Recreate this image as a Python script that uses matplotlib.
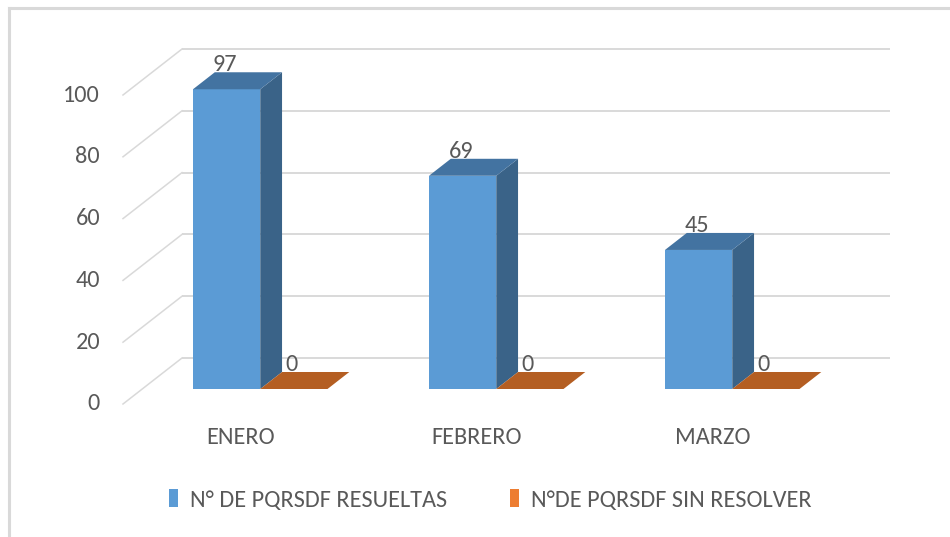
import matplotlib
matplotlib.use("Agg")
import matplotlib.pyplot as plt
from matplotlib.patches import Polygon, Patch
from matplotlib.lines import Line2D

categories = ["ENERO", "FEBRERO", "MARZO"]
resueltas = [97, 69, 45]
sin_resolver = [0, 0, 0]
series_names = ["N° DE PQRSDF RESUELTAS", "N°DE PQRSDF SIN RESOLVER"]
yticks = [0, 20, 40, 60, 80, 100]

plt.rcParams['font.family'] = ['Carlito', 'Liberation Sans Narrow', 'DejaVu Sans']

W, H = 950, 537
fig = plt.figure(figsize=(W / 100, H / 100), dpi=100)
ax = fig.add_axes([0, 0, 1, 1])
ax.axis('off')

# pixel geometry mapping
px_per_cat = 236.0
px_per_val = 3.09
x0_px = 241.0           # category 0 centre, front plane
y0_px = 404.0           # value 0, front plane (from top)
ax.set_xlim((0 - x0_px) / px_per_cat, (W - x0_px) / px_per_cat)
ax.set_ylim(-(H - y0_px) / px_per_val, y0_px / px_per_val)

DX = 59.0 / px_per_cat   # depth offset in category units
DY = 46.0 / px_per_val   # depth offset in value units
FS = 17.5


def P(x, v, z):
    return (x + z * DX, v + z * DY)


grid_c = '#D9D9D9'
text_c = '#595959'
n = len(categories)

# walls: back gridlines and side diagonals
for t in yticks:
    ax.plot([P(-0.5, t, 1)[0], P(n - 0.5, t, 1)[0]], [P(-0.5, t, 1)[1]] * 2,
            color=grid_c, lw=1.4, zorder=1, solid_capstyle='butt')
    ax.plot([P(-0.5, t, 0)[0], P(-0.5, t, 1)[0]], [P(-0.5, t, 0)[1], P(-0.5, t, 1)[1]],
            color=grid_c, lw=1.1, zorder=1)
    ax.text(-0.5 - 0.097, t, str(t), ha='right', va='center', fontsize=FS, color=text_c)

bw = 0.285
z0, z1 = 15.0 / 46.0, 32.0 / 46.0


def bar3d(xl, xr, v, front, top, side):
    if v > 0:
        ax.add_patch(Polygon([P(xl, 0, z0), P(xr, 0, z0), P(xr, v, z0), P(xl, v, z0)],
                             closed=True, facecolor=front, edgecolor='none', zorder=3))
        ax.add_patch(Polygon([P(xr, 0, z0), P(xr, 0, z1), P(xr, v, z1), P(xr, v, z0)],
                             closed=True, facecolor=side, edgecolor='none', zorder=3))
    ax.add_patch(Polygon([P(xl, v, z0), P(xr, v, z0), P(xr, v, z1), P(xl, v, z1)],
                         closed=True, facecolor=top, edgecolor='none', zorder=3))
    cx = (xl + xr) / 2 - 0.008
    ax.text(P(cx, v, z0)[0], P(cx, v, z1)[1] + 0.4, f"{v}", ha='center', va='baseline',
            fontsize=FS, color=text_c, zorder=4)


for i, cat in enumerate(categories):
    bar3d(i - bw, i, resueltas[i], '#5B9BD5', '#4373A1', '#3A6388')
    bar3d(i, i + bw, sin_resolver[i], '#C5692A', '#B45E22', '#9A4F1C')
    ax.text(i, -10.7, cat, ha='center', va='center', fontsize=FS, color=text_c)

# legend
handles = [Patch(facecolor='#5B9BD5', edgecolor='none'),
           Patch(facecolor='#ED7D31', edgecolor='none')]
leg = fig.legend(handles, series_names, loc='center', bbox_to_anchor=(0.516, 0.069),
                 ncol=2, frameon=False, fontsize=FS, handlelength=0.36, handleheight=0.75,
                 handletextpad=0.5, columnspacing=2.6)
for t in leg.get_texts():
    t.set_color(text_c)

# outer frame (left and top edges)
fig.add_artist(Line2D([9 / W, 9 / W], [0, 1 - 8 / H], transform=fig.transFigure,
                      color=grid_c, lw=2.2))
fig.add_artist(Line2D([9 / W, 1], [1 - 8 / H, 1 - 8 / H], transform=fig.transFigure,
                      color=grid_c, lw=2.2))

fig.savefig('out.png', dpi=100)
